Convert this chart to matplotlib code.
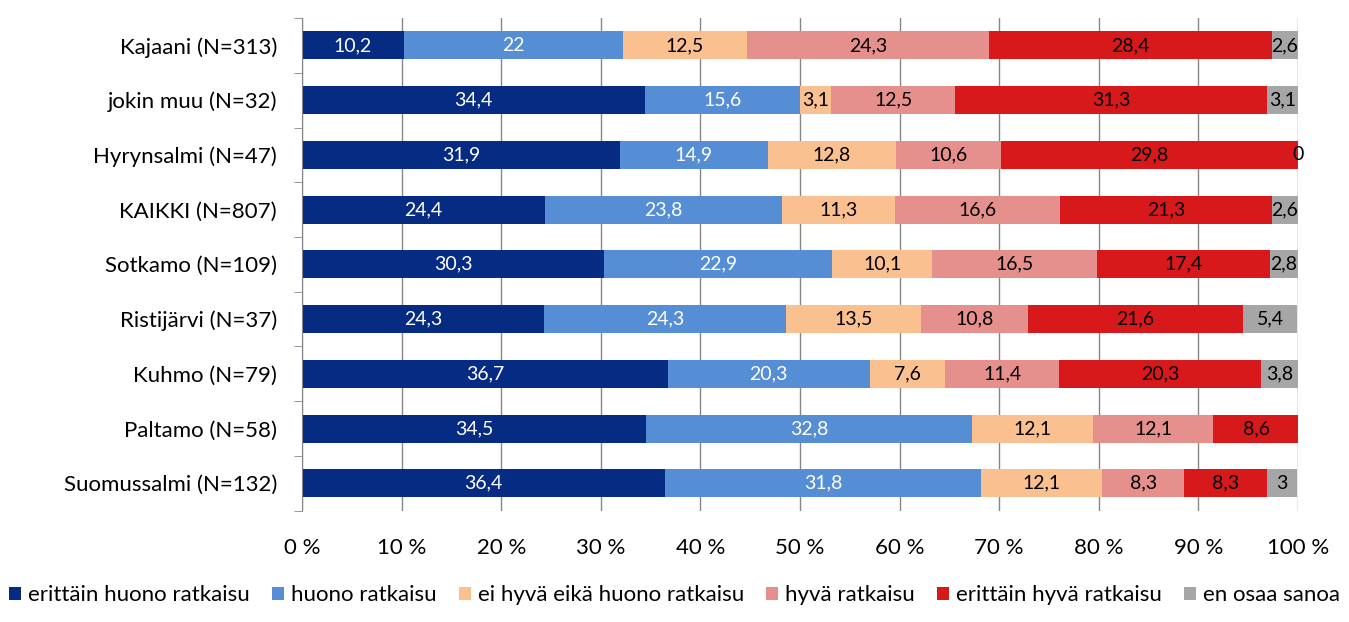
import matplotlib
matplotlib.use("Agg")
import matplotlib.pyplot as plt
import numpy as np

plt.rcParams['font.family'] = ['Lato', 'DejaVu Sans']

categories = ["Kajaani (N=313)", "jokin muu (N=32)", "Hyrynsalmi (N=47)", "KAIKKI (N=807)",
              "Sotkamo (N=109)", "Ristijärvi (N=37)", "Kuhmo (N=79)", "Paltamo (N=58)",
              "Suomussalmi (N=132)"]
series_names = ["erittäin huono ratkaisu", "huono ratkaisu", "ei hyvä eikä huono ratkaisu",
                "hyvä ratkaisu", "erittäin hyvä ratkaisu", "en osaa sanoa"]
erittain_huono = [10.2, 34.4, 31.9, 24.4, 30.3, 24.3, 36.7, 34.5, 36.4]
huono = [22, 15.6, 14.9, 23.8, 22.9, 24.3, 20.3, 32.8, 31.8]
ei_hyva_eika_huono = [12.5, 3.1, 12.8, 11.3, 10.1, 13.5, 7.6, 12.1, 12.1]
hyva = [24.3, 12.5, 10.6, 16.6, 16.5, 10.8, 11.4, 12.1, 8.3]
erittain_hyva = [28.4, 31.3, 29.8, 21.3, 17.4, 21.6, 20.3, 8.6, 8.3]
en_osaa = [2.6, 3.1, 0, 2.6, 2.8, 5.4, 3.8, 0, 3]
xticklabels = ["0 %", "10 %", "20 %", "30 %", "40 %", "50 %", "60 %", "70 %", "80 %", "90 %", "100 %"]

series = [erittain_huono, huono, ei_hyva_eika_huono, hyva, erittain_hyva, en_osaa]
colors = ["#062B82", "#558ED5", "#FAC090", "#E6908E", "#D7191C", "#A6A6A6"]
text_colors = ["white", "white", "black", "black", "black", "black"]

fig = plt.figure(figsize=(13.49, 6.22), dpi=100)
ax = fig.add_axes([0.2239, 0.179, 0.7383, 0.792])

y = np.arange(len(categories))
left = np.zeros(len(categories))
for si, (vals, c, tc) in enumerate(zip(series, colors, text_colors)):
    vals = np.array(vals, dtype=float)
    ax.barh(y, vals, left=left, height=0.51, color=c, zorder=3, label=series_names[si])
    for i, v in enumerate(vals):
        if v == 0 and not (si == 5 and i == 2):
            continue
        lab = ("%g" % v).replace(".", ",")
        ax.text(left[i] + v / 2, y[i], lab, ha="center", va="center",
                color=tc, fontsize=14, zorder=4)
    left = left + vals

ax.set_ylim(len(categories) - 0.5, -0.5)
ax.set_xlim(0, 100)
ax.set_yticks(y)
ax.set_yticklabels(categories, fontsize=16)
ax.set_yticks(np.arange(len(categories) + 1) - 0.5, minor=True)
ax.tick_params(axis="y", which="major", length=0, pad=18)
ax.tick_params(axis="y", which="minor", length=6, color="#868686")
ax.set_xticks(np.arange(0, 101, 10))
ax.set_xticklabels(xticklabels, fontsize=16)
ax.tick_params(axis="x", length=0, pad=20)
ax.grid(axis="x", color="#868686", linewidth=1, zorder=0)
for s in ["top", "right", "bottom"]:
    ax.spines[s].set_visible(False)
ax.spines["left"].set_color("#868686")
ax.spines["left"].set_zorder(5)

handles, labels = ax.get_legend_handles_labels()
fig.legend(handles, labels, loc="center", bbox_to_anchor=(0.5, 0.043), ncol=6,
           frameon=False, fontsize=16, handlelength=0.55, handleheight=0.55,
           handletextpad=0.3, columnspacing=1.0)

fig.savefig("out.png", dpi=100)
